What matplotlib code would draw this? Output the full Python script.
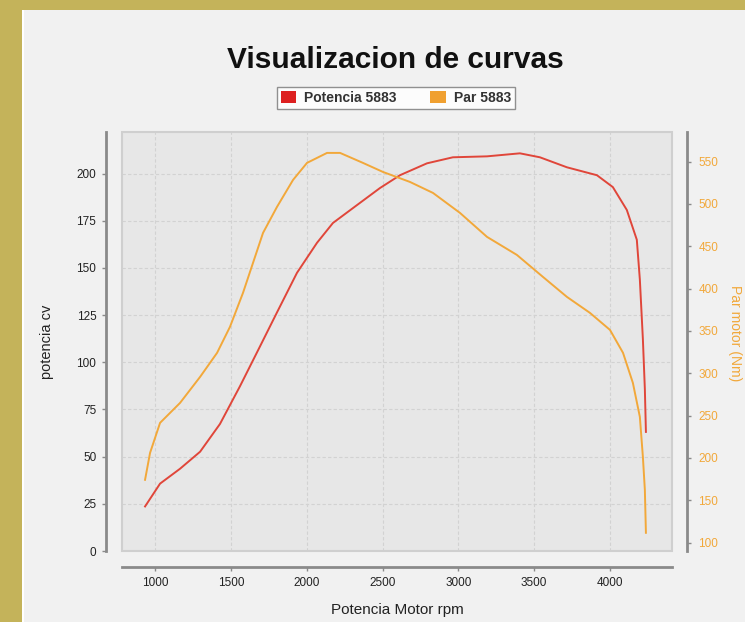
import matplotlib
matplotlib.use('Agg')
import matplotlib.pyplot as plt
from matplotlib.patches import Rectangle, Patch

plt.rcParams['font.family'] = ['Liberation Sans', 'DejaVu Sans']

# potencia (cv) vs rpm
pot_rpm = [934, 1033, 1165, 1297, 1428, 1560, 1692, 1804, 1936, 2068, 2173, 2332, 2483,
           2615, 2793, 2964, 3189, 3406, 3538, 3716, 3914, 4019, 4111, 4177, 4197, 4217,
           4230, 4237]
pot_cv = [23.6, 35.7, 43.6, 52.6, 67.3, 87.3, 108.4, 126.4, 147.4, 163.3, 173.8, 183.3, 192.3,
          199.1, 205.4, 208.6, 209.1, 210.7, 208.6, 203.3, 199.1, 192.8, 180.7, 164.9, 143.8,
          112.2, 85.8, 63.1]

# par (Nm) vs rpm
par_rpm = [934, 967, 1033, 1165, 1297, 1409, 1494, 1580, 1646, 1712, 1804, 1910, 2002, 2134,
           2220, 2371, 2503, 2681, 2833, 3011, 3189, 3386, 3558, 3716, 3868, 4000, 4086, 4151,
           4197, 4217, 4230, 4237]
par_nm = [174.1, 205.9, 241.4, 265.0, 295.7, 324.1, 354.8, 395.0, 430.4, 465.8, 496.5, 528.4,
          548.5, 560.3, 560.3, 548.5, 537.8, 526.0, 513.0, 489.4, 461.1, 439.8, 413.8, 390.2,
          371.3, 351.2, 324.1, 288.6, 248.5, 201.2, 162.2, 111.5]

x_ticks = [1000, 1500, 2000, 2500, 3000, 3500, 4000]
pot_ticks = [0, 25, 50, 75, 100, 125, 150, 175, 200]
par_ticks = [100, 150, 200, 250, 300, 350, 400, 450, 500, 550]

RED = '#e0463a'
ORANGE = '#f2a83a'
W, H = 745, 622

fig = plt.figure(figsize=(W / 100, H / 100), dpi=100)
fig.patch.set_facecolor('#c4b35a')
fig.patches.append(Rectangle((22 / W, 0), 1, 1 - 10 / H, transform=fig.transFigure,
                             facecolor='#f1f1f1', edgecolor='none', zorder=-10))
fig.patches.append(Rectangle((22 / W, 0), 1.5 / W, 1 - 10 / H, transform=fig.transFigure,
                             facecolor='white', edgecolor='none', zorder=-10))

ax = fig.add_axes([122 / W, 1 - 551 / H, (672 - 122) / W, (551 - 132) / H])
ax.set_facecolor('#e7e7e7')
ax.plot(pot_rpm, pot_cv, color=RED, lw=1.4, zorder=3)
ax.set_xlim(782, 4409)
ax.set_ylim(0, 222)
ax.set_xticks(x_ticks)
ax.set_yticks(pot_ticks)
ax.grid(True, color='#d2d2d2', lw=0.8, ls=(0, (3, 2)))
ax.set_axisbelow(True)

ax2 = ax.twinx()
ax2.plot(par_rpm, par_nm, color=ORANGE, lw=1.4, zorder=3)
ax2.set_ylim(90, 585)
ax2.set_yticks(par_ticks)

for a in (ax, ax2):
    for s in a.spines.values():
        s.set_visible(False)

ax.spines['left'].set_visible(True)
ax.spines['left'].set_position(('outward', 11.5))
ax.spines['bottom'].set_visible(True)
ax.spines['bottom'].set_position(('outward', 11.5))
ax2.spines['right'].set_visible(True)
ax2.spines['right'].set_position(('outward', 11))
for s in (ax.spines['left'], ax.spines['bottom'], ax2.spines['right']):
    s.set_color('#8a8a8a')
    s.set_linewidth(2)

ax.add_patch(Rectangle((0, 0), 1, 1, transform=ax.transAxes, fill=False,
                       edgecolor='#cfcfcf', lw=1.5, zorder=5, clip_on=False))

ax.tick_params(axis='both', length=3, width=1, color='#8a8a8a', labelsize=8.5,
               labelcolor='#222222', pad=4)
ax2.tick_params(axis='y', length=3, width=1, color='#8a8a8a', labelsize=8.5,
                labelcolor=ORANGE, pad=5)

ax.set_xlabel('Potencia Motor rpm', fontsize=11, color='#222222', labelpad=10)
ax.set_ylabel('potencia cv', fontsize=10.5, color='#222222', labelpad=16)
fig.text(735 / W, 1 - 333 / H, 'Par motor (Nm)', rotation=270, color=ORANGE,
         fontsize=10, ha='center', va='center')

fig.text(395 / W, 1 - 60 / H, 'Visualizacion de curvas', fontsize=21.5,
         fontweight='bold', ha='center', va='center', color='#111111')

handles = [Patch(facecolor='#dd2020', edgecolor='none', label='Potencia 5883'),
           Patch(facecolor='#f0a030', edgecolor='none', label='Par 5883')]
leg = fig.legend(handles=handles, loc='center', bbox_to_anchor=(396 / W, 1 - 98 / H),
                 ncol=2, frameon=True, fancybox=False, edgecolor='#777777',
                 prop={'size': 10, 'weight': 'bold'}, handlelength=1.1, handleheight=0.9,
                 handletextpad=0.6, columnspacing=2.4, borderpad=0.3, borderaxespad=0)
leg.get_frame().set_linewidth(1)
leg.get_frame().set_facecolor('white')
for t in leg.get_texts():
    t.set_color('#333333')

fig.savefig('out.png', dpi=100)
